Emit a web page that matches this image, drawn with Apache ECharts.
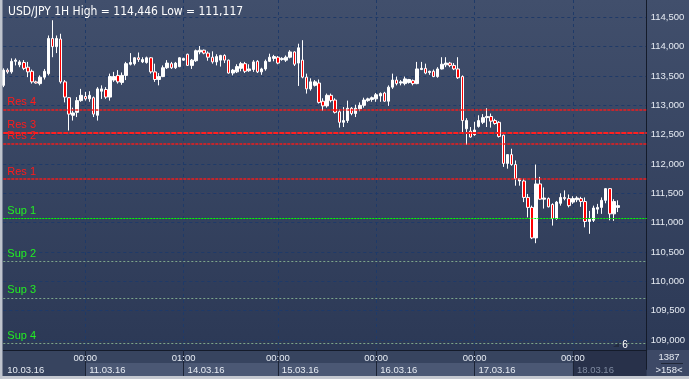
<!DOCTYPE html>
<html><head><meta charset="utf-8">
<script src="https://cdn.jsdelivr.net/npm/echarts@6/dist/echarts.min.js"></script>
<style>
html,body{margin:0;padding:0;width:689px;height:379px;overflow:hidden;}
body{background:linear-gradient(to bottom,#414f6c 0px,#2c3956 350px,#2c3956 379px);}
#c{width:689px;height:379px;}
</style></head><body><div id="c"></div>
<script>
// ---- data ----
const dayLabels = ['10.03.16','11.03.16','14.03.16','15.03.16','16.03.16','17.03.16','18.03.16'];
const dayFirstHour = [4,0,1,0,0,0,0];
const dayLastHour  = [23,23,23,23,23,23,11];
const emptySlots = 7;

const opens = [113.34,113.60,113.57,113.75,113.69,113.73,113.65,113.58,113.40,113.37,113.48,113.54,114.14,114.00,114.13,113.40,113.13,112.83,112.88,113.08,
113.15,113.11,113.13,112.83,113.24,113.27,113.14,113.43,113.51,113.39,113.51,113.70,113.71,113.81,113.74,113.73,113.81,113.57,113.44,113.49,113.64,113.71,113.64,113.66,
113.77,113.87,113.68,113.76,113.91,113.94,113.89,113.82,113.74,113.77,113.85,113.77,113.55,113.57,113.63,113.71,113.59,113.61,113.75,113.57,113.62,113.75,113.80,
113.82,113.78,113.77,113.82,113.91,113.72,113.77,113.48,113.28,113.34,113.38,113.07,112.99,113.17,113.09,112.89,112.71,112.74,112.95,112.86,112.94,113.00,113.08,113.10,
113.11,113.16,113.21,113.07,113.31,113.43,113.38,113.37,113.39,113.42,113.37,113.61,113.63,113.56,113.58,113.49,113.62,113.69,113.72,113.68,113.62,113.49,112.60,112.56,
112.50,112.64,112.71,112.79,112.81,112.74,112.71,112.49,112.01,112.16,111.99,111.71,111.71,111.43,111.26,110.74,111.66,111.40,111.41,111.31,111.07,111.33,111.43,111.41,
111.35,111.39,111.41,111.36,111.02,111.04,111.23,111.26,111.38,111.58,111.15,111.26];
const closes = [113.60,113.57,113.75,113.77,113.74,113.63,113.57,113.40,113.38,113.48,113.58,114.14,114.00,114.14,113.40,113.14,112.85,112.87,113.08,113.17,
113.11,113.17,112.85,113.28,113.28,113.14,113.49,113.49,113.40,113.51,113.71,113.73,113.81,113.78,113.78,113.81,113.57,113.44,113.49,113.64,113.72,113.64,113.72,113.81,
113.80,113.68,113.77,113.93,113.94,113.89,113.82,113.74,113.83,113.85,113.77,113.55,113.60,113.66,113.71,113.58,113.62,113.74,113.57,113.62,113.75,113.82,113.83,
113.72,113.80,113.82,113.91,113.70,113.98,113.48,113.28,113.40,113.40,113.05,112.99,113.17,113.08,112.88,112.71,112.74,112.95,112.86,112.95,113.00,113.09,113.11,113.13,
113.18,113.20,113.07,113.31,113.43,113.37,113.40,113.45,113.44,113.37,113.62,113.63,113.55,113.58,113.49,113.62,113.70,113.72,113.68,113.62,113.47,112.74,112.74,112.46,
112.58,112.74,112.79,112.81,112.73,112.69,112.47,112.01,112.16,111.99,111.75,111.75,111.43,111.26,110.74,111.66,111.40,111.42,111.27,111.07,111.35,111.43,111.41,111.29,
111.41,111.42,111.36,111.02,111.06,111.25,111.26,111.38,111.58,111.15,111.36,111.29];
const lows = [113.31,113.54,113.54,113.68,113.65,113.60,113.48,113.37,113.37,113.34,113.44,113.51,113.82,113.89,113.37,113.05,112.57,112.74,112.80,113.06,
113.08,113.06,112.80,112.74,113.11,113.11,113.08,113.40,113.37,113.35,113.43,113.68,113.68,113.74,113.72,113.71,113.54,113.40,113.34,113.48,113.62,113.62,113.62,113.65,
113.76,113.67,113.62,113.74,113.87,113.87,113.76,113.71,113.68,113.66,113.72,113.54,113.51,113.55,113.58,113.55,113.57,113.57,113.55,113.52,113.59,113.74,113.75,
113.70,113.76,113.74,113.80,113.67,113.33,113.46,113.20,113.25,113.32,113.03,112.91,112.96,113.05,112.86,112.62,112.63,112.70,112.83,112.80,112.90,112.96,113.06,113.06,
113.06,113.06,113.06,112.99,113.28,113.34,113.34,113.34,113.37,113.34,113.36,113.60,113.53,113.52,113.48,113.47,113.61,113.65,113.65,113.60,113.45,112.52,112.33,112.45,
112.48,112.62,112.68,112.63,112.62,112.67,112.45,111.95,111.92,111.97,111.63,111.63,111.35,111.09,110.72,110.65,111.39,111.24,111.26,110.95,111.05,111.29,111.38,111.26,
111.32,111.35,111.27,110.92,110.81,111.01,111.15,111.15,111.33,111.04,111.03,111.18];
const highs = [113.63,113.63,113.80,113.80,113.77,113.77,113.74,113.61,113.42,113.51,113.62,114.19,114.45,114.19,114.22,113.43,113.14,112.96,113.14,113.28,
113.23,113.24,113.15,113.31,113.34,113.31,113.54,113.57,113.60,113.56,113.74,113.89,113.82,113.90,113.82,113.83,113.82,113.71,113.55,113.68,113.77,113.74,113.74,113.82,
113.81,113.88,113.79,113.95,114.01,113.95,113.92,113.92,113.87,113.86,113.87,113.78,113.62,113.70,113.74,113.74,113.70,113.77,113.77,113.64,113.78,113.88,113.86,
113.84,113.82,113.85,113.94,113.92,114.05,114.11,113.54,113.46,113.43,113.44,113.12,113.20,113.20,113.12,112.93,112.97,113.08,112.97,113.01,113.05,113.13,113.13,113.15,
113.21,113.22,113.23,113.34,113.54,113.49,113.43,113.49,113.45,113.44,113.74,113.74,113.71,113.59,113.61,113.65,113.82,113.82,113.74,113.72,113.82,113.51,112.78,112.63,
112.72,112.83,112.85,112.95,112.86,112.77,112.73,112.50,112.17,112.26,112.06,111.76,111.75,111.49,111.29,111.99,111.78,111.60,111.43,111.33,111.37,111.50,111.55,111.48,
111.45,111.45,111.44,111.43,111.20,111.29,111.32,111.43,111.59,111.59,111.40,111.38];

const levelNames  = ['Res 4','Res 3','Res 2','Res 1','Sup 1','Sup 2','Sup 3','Sup 4'];
const levelValues = [112.929,112.528,112.350,111.736,111.071,110.338,109.725,108.941];
const lastPrice = 111.291;
const yMin = 108.5, yMax = 114.795, yStep = 0.5;
const titleText = 'USD/JPY 1H High = 114,446 Low = 111,117';
const barCountText = '1387';
const scaleText = '>158<';
const markerText = '6';

// ---- build categories ----
const categories = [];
const dayStarts = [];
dayLabels.forEach((d, k) => {
  dayStarts.push(categories.length);
  for (let h = dayFirstHour[k]; h <= dayLastHour[k]; h++) {
    categories.push(d + ' ' + String(h).padStart(2, '0') + ':00');
  }
});
for (let k = 0; k < emptySlots; k++) categories.push('empty' + k);
const candles = opens.map((o, i) => [o, closes[i], lows[i], highs[i]]);
const isStart = new Set(dayStarts);

const FONT = 'Liberation Sans';
const LABEL = '#e6ebf3';
const GRIDC = '#1f3a68';

const levelStyle = (name) => {
  if (name === 'Res 3') return {color: '#ff2020', type: [5, 1], width: 2, opacity: 1};
  if (name.startsWith('Res')) return {color: '#f01c1c', type: [3, 1], width: 1.5, opacity: 1};
  if (name === 'Sup 1') return {color: '#00ff00', type: [2, 1], width: 1, opacity: 1};
  return {color: '#7da58a', type: [2, 2], width: 1, opacity: 1};
};

// one helper series per level, each with its own markLine
const levelSeries = levelNames.map((n, k) => ({
  type: 'line', name: n, data: [], silent: true, z: 3,
  markLine: {
    silent: true, symbol: ['none', 'none'], animation: false,
    lineStyle: levelStyle(n),
    emphasis: {disabled: true},
    label: {show: true, position: 'insideStartTop', formatter: n, distance: [4, 2],
      color: n.startsWith('Res') ? '#ff1a1a' : '#22ee22', fontSize: 11, fontFamily: FONT},
    data: [{yAxis: levelValues[k]}]
  }
}));

const chart = echarts.init(document.getElementById('c'), null, {renderer: 'canvas'});
chart.setOption({
  animation: false,
  textStyle: {fontFamily: FONT},
  title: {text: titleText, left: 3, top: 1,
    textStyle: {color: '#ffffff', fontSize: 12, fontWeight: 'normal', fontFamily: '"Liberation Sans Narrow", "DejaVu Sans Condensed", "Liberation Sans"'}},
  grid: {left: 3.3, right: 42.3, top: 0, bottom: 9.67, outerBoundsMode: 'none', containLabel: false},
  xAxis: [{
    type: 'category', data: categories, boundaryGap: false, position: 'bottom', offset: -19.33, z: 1,
    axisLine: {show: true, lineStyle: {color: '#141b2a', width: 1}},
    axisTick: {show: true, interval: (i) => isStart.has(i) && i > 0, length: 26, lineStyle: {color: '#1b2335'}},
    axisLabel: {interval: (i) => isStart.has(i) && i > 0, formatter: (v) => v.slice(-5),
      color: LABEL, fontSize: 9.5, margin: 3, fontFamily: FONT},
    splitLine: {show: true, interval: (i) => isStart.has(i) && i > 0, lineStyle: {color: GRIDC, type: [3, 3]}}
  }, {
    type: 'category', data: categories, boundaryGap: false, position: 'bottom', offset: -19.33, z: 3,
    axisLine: {show: false}, axisTick: {show: false}, splitLine: {show: false},
    axisLabel: {interval: (i) => isStart.has(i), formatter: (v) => v.slice(0, 8), align: 'left',
      padding: [0, 0, 0, 4], margin: 15, fontSize: 9.5, fontFamily: FONT,
      color: (v) => (v && v.startsWith(dayLabels[dayLabels.length - 1])) ? '#7f8aa0' : LABEL}
  }],
  yAxis: {
    type: 'value', position: 'right', min: yMin, max: yMax, interval: yStep, z: 1,
    axisLine: {show: true, lineStyle: {color: '#141b2a'}},
    axisTick: {show: false},
    axisLabel: {color: LABEL, fontSize: 9.5, margin: 4, fontFamily: FONT,
      showMinLabel: false, showMaxLabel: false,
      formatter: (v) => v.toFixed(3).replace('.', ',')},
    splitLine: {show: true, showMinLine: false, showMaxLine: false, lineStyle: {color: GRIDC, type: [3, 3]}}
  },
  series: levelSeries.concat([{
    type: 'candlestick', data: candles, barWidth: 3, z: 4,
    itemStyle: {color: '#ffffff', color0: '#ff0000', borderColor: '#ffffff', borderColor0: '#ffffff', borderWidth: 1},
    markLine: {
      silent: true, symbol: ['none', 'none'], animation: false,
      lineStyle: {opacity: 0},
      data: [{
        yAxis: lastPrice,
        label: {show: true, position: 'end', distance: 3,
          formatter: lastPrice.toFixed(3).replace('.', ','),
          backgroundColor: '#c8cdd7', color: '#1b2130', padding: [1, 2, 1, 2], fontSize: 9.5, fontFamily: FONT}
      }]
    }
  }])
});

// ---- panels placed from axis pixels ----
const px = (i) => chart.convertToPixel({xAxisIndex: 0}, i);
const plotRight = 646.7;
const panels = [];
panels.push({type: 'rect', z: -5, shape: {x: 0, y: 350, width: 689, height: 27}, style: {fill: '#37445f'}});
for (let k = 1; k < dayStarts.length - 1; k++) {
  const x0 = px(dayStarts[k]), x1 = px(dayStarts[k + 1]);
  panels.push({type: 'rect', z: -4, shape: {x: x0, y: 363, width: x1 - x0, height: 13}, style: {fill: '#4b5874'}});
}
const xl = px(dayStarts[dayStarts.length - 1]);
panels.push({type: 'rect', z: -4, shape: {x: xl, y: 351, width: plotRight - xl, height: 25}, style: {fill: '#28314a'}});
panels.push({type: 'rect', z: -4, shape: {x: plotRight, y: 350, width: 689 - plotRight, height: 27}, style: {fill: '#3d4966'}});
panels.push({type: 'line', z: 5, shape: {x1: 661, y1: 363.5, x2: 683, y2: 363.5}, style: {stroke: '#1f2738', lineWidth: 1}});
panels.push({type: 'text', z: 5, style: {text: barCountText, x: 669, y: 357, align: 'center', verticalAlign: 'middle', fill: LABEL, font: '9.5px "Liberation Sans"'}});
panels.push({type: 'text', z: 5, style: {text: scaleText, x: 669, y: 370, align: 'center', verticalAlign: 'middle', fill: LABEL, font: '9.5px "Liberation Sans"'}});
panels.push({type: 'text', z: 5, style: {text: markerText, x: 625, y: 345, align: 'center', verticalAlign: 'middle', fill: '#ffffff', font: '10px "Liberation Sans"'}});
panels.push({type: 'polygon', z: 5, shape: {points: [[613, 347], [619, 343], [619, 347]]}, style: {fill: '#232c40'}});
panels.push({type: 'rect', z: 6, shape: {x: 0, y: 376, width: 689, height: 3}, style: {fill: '#c4c8d0'}});
panels.push({type: 'rect', z: 6, shape: {x: 0, y: 0, width: 2.5, height: 379}, style: {fill: '#bfc4cd'}});
chart.setOption({graphic: panels});
</script></body></html>
